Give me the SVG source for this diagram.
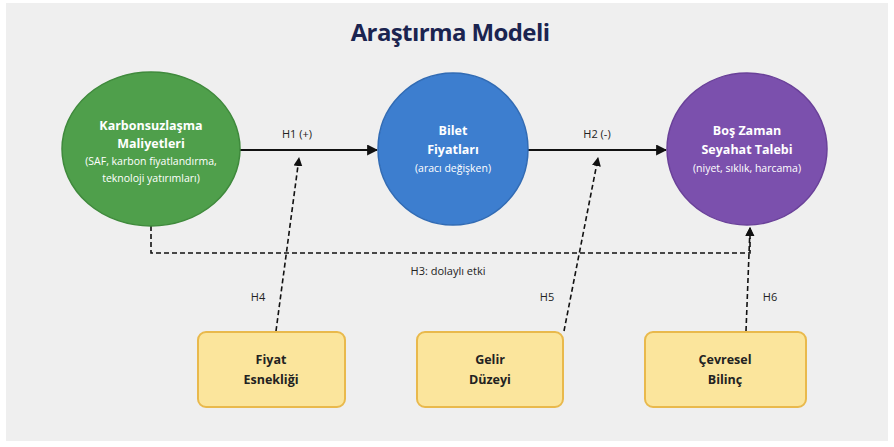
<svg xmlns="http://www.w3.org/2000/svg" width="894" height="447" viewBox="0 0 894 447">
<style>
text{font-family:"Open Sans","Noto Sans","Liberation Sans",sans-serif;text-anchor:middle}
.title{font-size:24px;font-weight:700;fill:#1b2450;letter-spacing:-0.6px}
.nt{font-size:12.5px;font-weight:700;fill:#ffffff}
.ns{font-size:10.5px;fill:#ffffff}
.bt{font-size:12.5px;font-weight:700;fill:#222222}
.lbl{font-size:11px;fill:#222222}
.solid{stroke:#111;stroke-width:2;fill:none}
.dash{stroke:#111;stroke-width:1.6;fill:none;stroke-dasharray:5 3}
.box{fill:#fbe59c;stroke:#e9b94c;stroke-width:2}
</style>
<defs>
<marker id="ah" viewBox="0 0 10 10" refX="9" refY="5" markerWidth="9" markerHeight="9" markerUnits="userSpaceOnUse" orient="auto"><path d="M0,0 L10,5 L0,10 Z" fill="#111"/></marker>
<marker id="ah2" viewBox="0 0 10 10" refX="9" refY="5" markerWidth="11" markerHeight="11" markerUnits="userSpaceOnUse" orient="auto"><path d="M0,0 L10,5 L0,10 Z" fill="#111"/></marker>
</defs>
<rect x="0" y="0" width="894" height="447" fill="#ffffff"/>
<rect x="6" y="3" width="882" height="438" fill="#efefef"/>
<text class="title" x="450" y="41">Araştırma Modeli</text>

<g id="connectors">
<line class="solid" x1="240" y1="150" x2="377" y2="150" marker-end="url(#ah2)"/>
<text class="lbl" x="297" y="138">H1 (+)</text>
<line class="solid" x1="528" y1="150" x2="666" y2="150" marker-end="url(#ah2)"/>
<text class="lbl" x="597" y="138">H2 (-)</text>
<polyline class="dash" points="151,226 151,253 750,253 750,228" marker-end="url(#ah)"/>
<text class="lbl" x="448" y="275">H3: dolaylı etki</text>
<line class="dash" x1="276" y1="331" x2="299" y2="158" marker-end="url(#ah)"/>
<text class="lbl" x="258" y="301">H4</text>
<line class="dash" x1="564" y1="331" x2="598" y2="158" marker-end="url(#ah)"/>
<text class="lbl" x="547" y="301">H5</text>
<line class="dash" x1="746" y1="331" x2="750" y2="228" marker-end="url(#ah)"/>
<text class="lbl" x="770" y="301">H6</text>
</g>

<g id="node-karbon">
<ellipse cx="151" cy="149" rx="89" ry="77" fill="#4f9f4b" stroke="#3f8a3c" stroke-width="1.5"/>
<text class="nt" x="151" y="130">Karbonsuzlaşma</text>
<text class="nt" x="151" y="148">Maliyetleri</text>
<text class="ns" x="151" y="165">(SAF, karbon fiyatlandırma,</text>
<text class="ns" x="151" y="182">teknoloji yatırımları)</text>
</g>

<g id="node-bilet">
<ellipse cx="453" cy="149" rx="75" ry="76" fill="#3d7ecf" stroke="#316bb4" stroke-width="1.5"/>
<text class="nt" x="453" y="135">Bilet</text>
<text class="nt" x="453" y="154">Fiyatları</text>
<text class="ns" x="453" y="172">(aracı değişken)</text>
</g>

<g id="node-talep">
<ellipse cx="747" cy="149" rx="80" ry="76" fill="#7b50ad" stroke="#6a4199" stroke-width="1.5"/>
<text class="nt" x="747" y="135">Boş Zaman</text>
<text class="nt" x="747" y="154">Seyahat Talebi</text>
<text class="ns" x="747" y="172">(niyet, sıklık, harcama)</text>
</g>

<g id="node-fiyat">
<rect class="box" x="198" y="332" width="147" height="75" rx="8"/>
<text class="bt" x="271" y="364">Fiyat</text>
<text class="bt" x="271" y="384">Esnekliği</text>
</g>

<g id="node-gelir">
<rect class="box" x="417" y="332" width="146" height="75" rx="8"/>
<text class="bt" x="490" y="364">Gelir</text>
<text class="bt" x="490" y="384">Düzeyi</text>
</g>

<g id="node-cevre">
<rect class="box" x="645" y="332" width="161" height="75" rx="8"/>
<text class="bt" x="725" y="364">Çevresel</text>
<text class="bt" x="725" y="384">Bilinç</text>
</g>
</svg>
